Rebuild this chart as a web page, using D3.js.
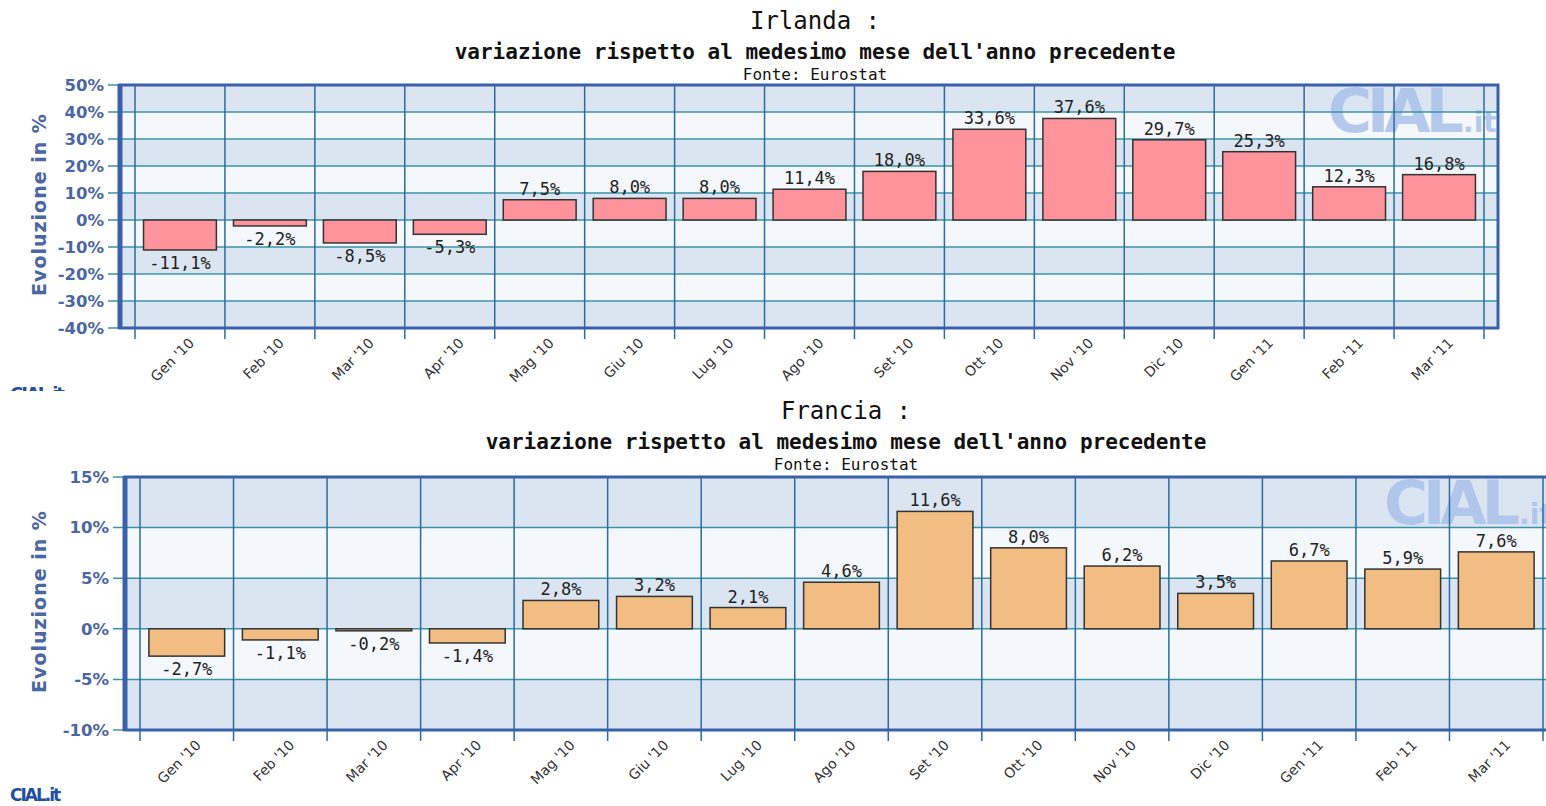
<!DOCTYPE html>
<meta charset="utf-8">
<style>
body { margin:0; background:#fff; }
text { font-family: "DejaVu Sans", Verdana, sans-serif; }
.mono { font-family: "DejaVu Sans Mono", monospace; }
</style>
<body>
<svg width="1546" height="806" id="vis"></svg>
<script src="https://d3js.org/d3.v7.min.js"></script>
<script>
var months = ["Gen '10","Feb '10","Mar '10","Apr '10","Mag '10","Giu '10","Lug '10","Ago '10","Set '10","Ott '10","Nov '10","Dic '10","Gen '11","Feb '11","Mar '11"];
var irlandaValues = [-11.1, -2.2, -8.5, -5.3, 7.5, 8.0, 8.0, 11.4, 18.0, 33.6, 37.6, 29.7, 25.3, 12.3, 16.8];
var franciaValues = [-2.7, -1.1, -0.2, -1.4, 2.8, 3.2, 2.1, 4.6, 11.6, 8.0, 6.2, 3.5, 6.7, 5.9, 7.6];
var irlandaTicks = [50, 40, 30, 20, 10, 0, -10, -20, -30, -40];
var franciaTicks = [15, 10, 5, 0, -5, -10];

var svg = d3.select("svg");

function fmt(v) { return v.toFixed(1).replace(".", ",") + "%"; }

function drawChart(cfg) {
    var g = svg.append("g");
    var ticks = cfg.ticks;
    var y = d3.scaleLinear()
        .domain([ticks[ticks.length - 1], ticks[0]])
        .range([cfg.bottom, cfg.top]);
    var x = d3.scaleBand().domain(months).range([cfg.bandL, cfg.bandR]);

    // titles
    g.append("text").attr("class", "mono").attr("x", cfg.cx).attr("y", cfg.titleY)
        .attr("text-anchor", "middle").style("font-size", "24px").attr("fill", "#111")
        .text(cfg.title);
    g.append("text").attr("class", "mono").attr("x", cfg.cx).attr("y", cfg.titleY + 30)
        .attr("text-anchor", "middle").style("font-size", "21px").style("font-weight", "bold")
        .attr("fill", "#111").text("variazione rispetto al medesimo mese dell'anno precedente");
    g.append("text").attr("class", "mono").attr("x", cfg.cx).attr("y", cfg.titleY + 51)
        .attr("text-anchor", "middle").style("font-size", "16px").attr("fill", "#111")
        .text("Fonte: Eurostat");

    // plot background bands
    for (var i = 0; i < ticks.length - 1; i++) {
        g.append("rect")
            .attr("x", cfg.left).attr("width", cfg.right - cfg.left)
            .attr("y", y(ticks[i])).attr("height", y(ticks[i + 1]) - y(ticks[i]))
            .attr("fill", i % 2 == 0 ? "#dbe5f2" : "#f4f7fc");
    }

    // watermark, clipped to the plot
    var clipId = "clip" + cfg.id;
    svg.append("clipPath").attr("id", clipId).append("rect")
        .attr("x", cfg.left).attr("y", cfg.top).attr("width", cfg.right - cfg.left).attr("height", cfg.bottom - cfg.top);
    var wm = g.append("g").attr("clip-path", "url(#" + clipId + ")");
    var cial = wm.append("text").attr("x", cfg.wmX).attr("y", cfg.top + 47)
        .style("font-size", "60px").style("font-weight", "bold").style("letter-spacing", "-5px")
        .attr("fill", "#a9c2ea").attr("opacity", 0.85).text("CIAL");
    var cw = cial.node().getComputedTextLength();
    wm.append("text").attr("x", cfg.wmX + cw + 4).attr("y", cfg.top + 47)
        .style("font-size", "28px").style("font-weight", "bold")
        .attr("fill", "#a9c2ea").attr("opacity", 0.85).text(".it");

    // horizontal gridlines with left ticks
    g.append("g").selectAll("line").data(ticks).enter().append("line")
        .attr("x1", cfg.left - 12).attr("x2", cfg.right)
        .attr("y1", function(d) { return y(d); }).attr("y2", function(d) { return y(d); })
        .attr("stroke", "#3b93a8").attr("stroke-width", 1.5);

    // vertical gridlines at band edges, extending below as ticks
    var edges = months.map(function(m) { return x(m); }).concat([cfg.bandR]);
    g.append("g").selectAll("line").data(edges).enter().append("line")
        .attr("x1", function(d) { return d; }).attr("x2", function(d) { return d; })
        .attr("y1", cfg.top).attr("y2", cfg.bottom + 11)
        .attr("stroke", "#2b6c9c").attr("stroke-width", 1.5);

    // bars
    var bw = x.bandwidth() * 0.81;
    g.append("g").selectAll("rect").data(cfg.values).enter().append("rect")
        .attr("x", function(d, i) { return x(months[i]) + (x.bandwidth() - bw) / 2; })
        .attr("width", bw)
        .attr("y", function(d) { return y(Math.max(0, d)); })
        .attr("height", function(d) { return Math.abs(y(d) - y(0)); })
        .attr("fill", cfg.color).attr("stroke", "#333").attr("stroke-width", 1.5);

    // value labels
    g.append("g").selectAll("text").data(cfg.values).enter().append("text")
        .attr("class", "mono")
        .attr("x", function(d, i) { return x(months[i]) + x.bandwidth() / 2; })
        .attr("y", function(d) { return d >= 0 ? y(d) - 5 : y(d) + 19; })
        .attr("text-anchor", "middle").style("font-size", "17px").attr("fill", "#222")
        .text(fmt);

    // plot border
    g.append("rect")
        .attr("x", cfg.left).attr("y", cfg.top)
        .attr("width", cfg.right - cfg.left).attr("height", cfg.bottom - cfg.top)
        .attr("fill", "none").attr("stroke", "#3a60aa").attr("stroke-width", 3);
    g.append("line").attr("x1", cfg.left).attr("x2", cfg.left)
        .attr("y1", cfg.top - 1).attr("y2", cfg.bottom + 1)
        .attr("stroke", "#3a60aa").attr("stroke-width", 5);

    // y axis
    var yaxis = g.append("g")
        .attr("transform", "translate(" + (cfg.left - 14) + ",0)")
        .call(d3.axisLeft(y).tickValues(ticks).tickSize(0).tickPadding(2)
            .tickFormat(function(d) { return d + "%"; }));
    yaxis.select(".domain").remove();
    yaxis.selectAll("text")
        .style("font-family", "'DejaVu Sans', Verdana, sans-serif")
        .style("font-size", "16.5px").style("font-weight", "bold").attr("fill", "#4a66a3");

    g.append("text")
        .attr("transform", "translate(46," + ((cfg.top + cfg.bottom) / 2 - 2) + ") rotate(-90)")
        .attr("text-anchor", "middle").style("font-size", "19px").style("font-weight", "bold")
        .style("letter-spacing", "1px")
        .attr("fill", "#4a66a3").text("Evoluzione in %");

    // x labels
    g.append("g").selectAll("text").data(months).enter().append("text")
        .attr("transform", function(d) {
            return "translate(" + (x(d) + x.bandwidth() / 2 + 15) + "," + (cfg.bottom + 16) + ") rotate(-45)";
        })
        .attr("text-anchor", "end").style("font-size", "14px").attr("fill", "#333")
        .text(function(d) { return d; });
}

// small logos bottom left
svg.append("clipPath").attr("id", "logoclip").append("rect")
    .attr("x", 0).attr("y", 0).attr("width", 200).attr("height", 391);
svg.append("text").attr("x", 10).attr("y", 400).attr("clip-path", "url(#logoclip)")
    .style("font-size", "18px").style("font-weight", "bold").style("letter-spacing", "-2px")
    .attr("fill", "#1f4f9f").text("CIAL.it");
svg.append("text").attr("x", 10).attr("y", 801)
    .style("font-size", "17px").style("font-weight", "bold").style("letter-spacing", "-2px")
    .attr("fill", "#1f4f9f").text("CIAL.it");

drawChart({
    id: 1, title: "Irlanda :", cx: 815, titleY: 29,
    left: 120, right: 1498, top: 85, bottom: 328,
    bandL: 135, bandR: 1484, ticks: irlandaTicks, values: irlandaValues,
    color: "#ff939c", wmX: 1328
});
drawChart({
    id: 2, title: "Francia :", cx: 846, titleY: 419,
    left: 125, right: 1558, top: 477, bottom: 730,
    bandL: 140, bandR: 1543, ticks: franciaTicks, values: franciaValues,
    color: "#f2bd82", wmX: 1384
});
</script>
</body>
